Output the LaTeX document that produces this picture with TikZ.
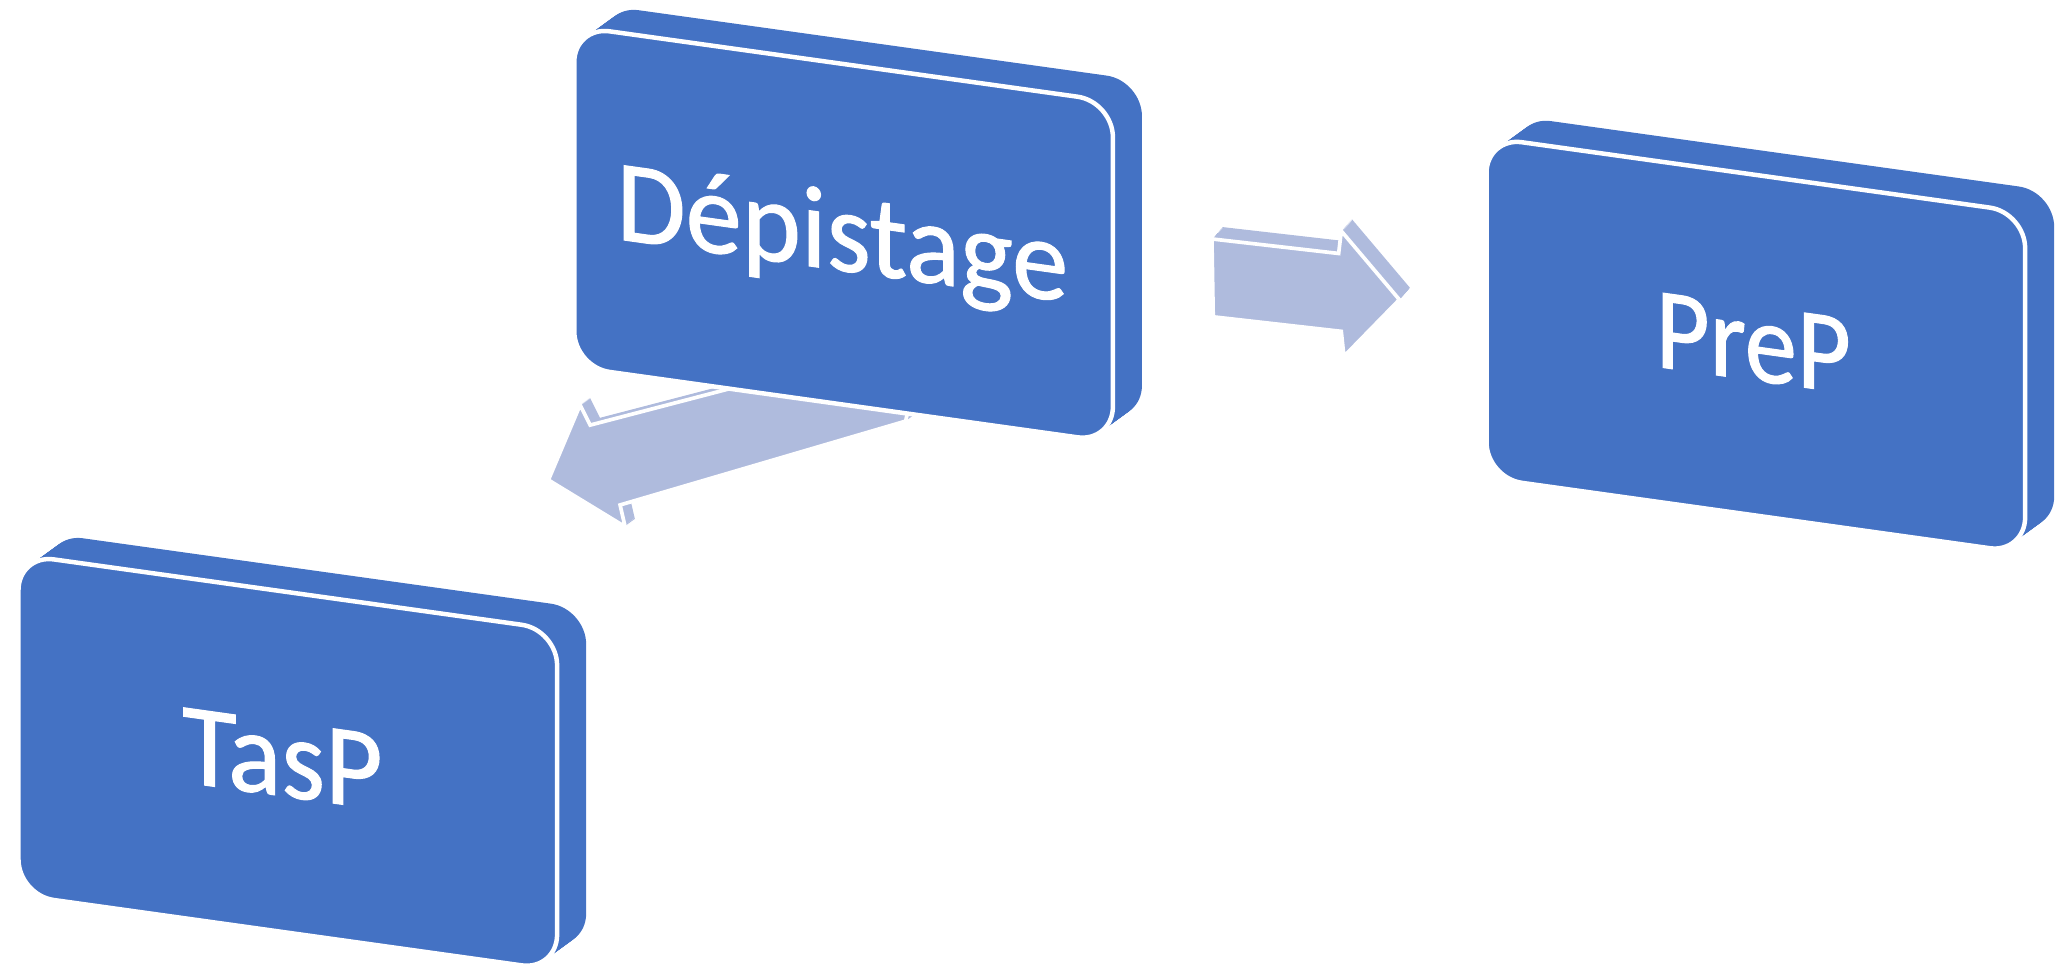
\documentclass[tikz,border=0pt]{standalone}
\usepackage{fontspec}
\setmainfont{Carlito}
\newfontfamily\lblfont{Carlito}[FakeBold=0.9]
\usetikzlibrary{calc}
\definecolor{boxblue}{HTML}{4472C4}
\definecolor{arrowblue}{HTML}{AFBBDD}
\tikzset{
  frontface/.style={fill=boxblue,draw=white,line width=3.4pt,rounded corners=27pt},
  sideface/.style={fill=boxblue,rounded corners=27pt},
  arrowside/.style={fill=arrowblue},
  arrowfront/.style={fill=arrowblue,draw=white,line width=2.8pt,line join=miter},
  slab/.pic={
    \foreach \t in {0,1,...,24}{
      \path[sideface,shift={(22*\t/24,-16*\t/24)}] (0,0) -- (408,57) -- (408,315) -- (0,258) -- cycle;
    }
    \path[frontface] (0,0) -- (408,57) -- (408,315) -- (0,258) -- cycle;
  },
  lbl/.style={anchor=base,text=white,inner sep=0pt,transform shape,
    font=\lblfont\fontsize{88}{88}\selectfont}
}
\begin{document}
\begin{tikzpicture}[x=1pt,y=-1pt]
\useasboundingbox (0,0) rectangle (1568,733);

% arrow Depistage -> TasP (behind the Depistage slab)
\foreach \t in {0,1,...,10}{
  \path[arrowside,shift={(0.75*\t,-0.55*\t)}] (700,256) -- (447,322) -- (439.4,306.8) -- (415.4,363.6) -- (473.5,399) -- (469.7,382.5) -- (686,319) -- cycle;
}
\path[arrowfront] (700,256) -- (447,322) -- (439.4,306.8) -- (415.4,363.6) -- (473.5,399) -- (469.7,382.5) -- (686,319) -- cycle;

% arrow Depistage -> PreP
\foreach \t in {0,1,...,10}{
  \path[arrowside,shift={(0.8*\t,-0.9*\t)}] (918,181) -- (1014,192) -- (1016,175) -- (1060,227) -- (1018,270) -- (1016,251) -- (919,240) -- cycle;
}
\path[arrowfront] (918,181) -- (1014,192) -- (1016,175) -- (1060,227) -- (1018,270) -- (1016,251) -- (919,240) -- cycle;

% slabs
\pic at (435,20) {slab};
\pic at (1126,104) {slab};
\pic at (14,420) {slab};

% labels
\begin{scope}[shift={(638,205)},yslant=-0.14,xscale=0.97]
  \node[lbl] (dep) at (0,0) {Dépistage};
\end{scope}
\begin{scope}[shift={(1328,288)},yslant=-0.14,xscale=0.9]
  \node[lbl] (prep) at (0,0) {PreP};
\end{scope}
\begin{scope}[shift={(214,603)},yslant=-0.14,xscale=0.96]
  \node[lbl] (tasp) at (0,0) {TasP};
\end{scope}
\end{tikzpicture}
\end{document}
